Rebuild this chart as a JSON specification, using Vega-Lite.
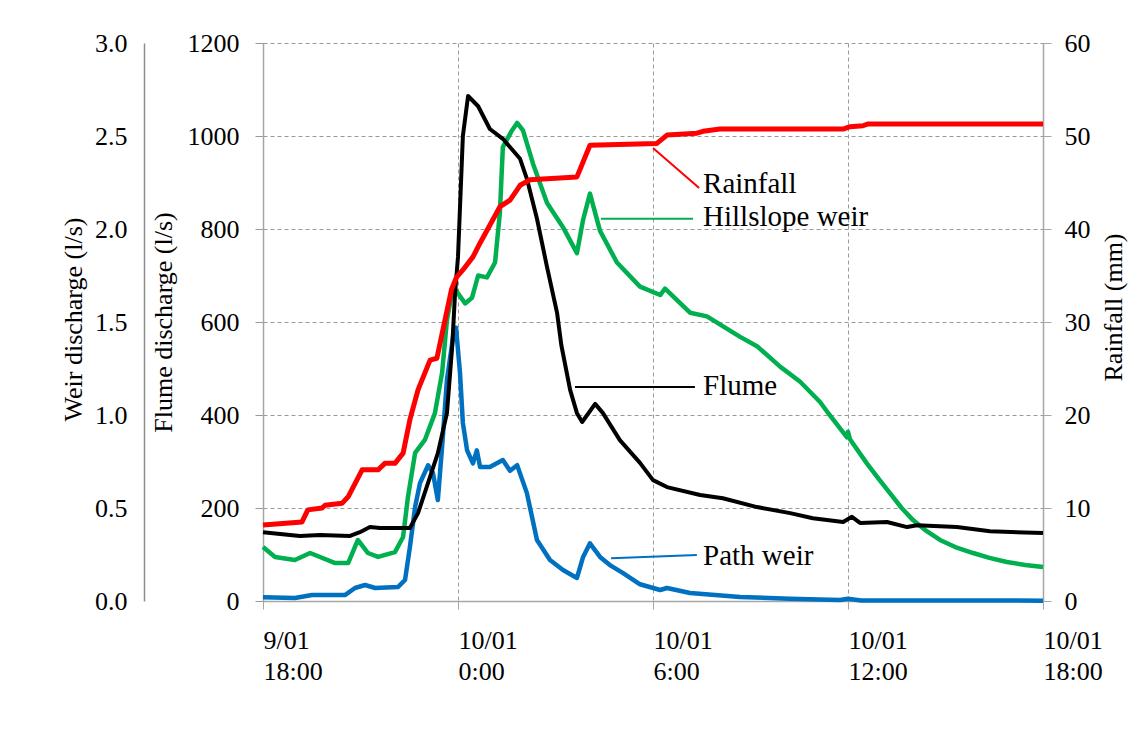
{
  "$schema": "https://vega.github.io/schema/vega-lite/v6.json",
  "width": 780,
  "height": 558,
  "autosize": {"type": "none"},
  "padding": {"left": 263, "top": 43, "right": 94, "bottom": 148},
  "background": "white",
  "config": {
    "view": {"stroke": null},
    "font": "Liberation Serif",
    "text": {"font": "Liberation Serif"},
    "axis": {
      "labelFont": "Liberation Serif",
      "titleFont": "Liberation Serif",
      "labelFontSize": 26,
      "titleFontSize": 26,
      "labelColor": "#000000",
      "titleColor": "#000000",
      "titleFontWeight": "normal",
      "domainColor": "#a6a6a6",
      "tickColor": "#a6a6a6",
      "domainWidth": 1.5
    }
  },
  "datasets": {
    "weir": [
      {"s": "Path weir", "h": 18.00, "v": 0.02},
      {"s": "Path weir", "h": 18.98, "v": 0.016},
      {"s": "Path weir", "h": 19.51, "v": 0.032},
      {"s": "Path weir", "h": 20.52, "v": 0.032},
      {"s": "Path weir", "h": 20.83, "v": 0.07},
      {"s": "Path weir", "h": 21.14, "v": 0.086},
      {"s": "Path weir", "h": 21.45, "v": 0.07},
      {"s": "Path weir", "h": 22.15, "v": 0.075},
      {"s": "Path weir", "h": 22.37, "v": 0.113},
      {"s": "Path weir", "h": 22.52, "v": 0.29},
      {"s": "Path weir", "h": 22.68, "v": 0.505},
      {"s": "Path weir", "h": 22.83, "v": 0.634},
      {"s": "Path weir", "h": 23.08, "v": 0.73},
      {"s": "Path weir", "h": 23.23, "v": 0.688},
      {"s": "Path weir", "h": 23.38, "v": 0.543},
      {"s": "Path weir", "h": 23.51, "v": 0.828},
      {"s": "Path weir", "h": 23.66, "v": 1.19},
      {"s": "Path weir", "h": 23.85, "v": 1.42},
      {"s": "Path weir", "h": 23.94, "v": 1.47},
      {"s": "Path weir", "h": 24.06, "v": 1.23},
      {"s": "Path weir", "h": 24.15, "v": 0.957},
      {"s": "Path weir", "h": 24.28, "v": 0.81},
      {"s": "Path weir", "h": 24.46, "v": 0.74},
      {"s": "Path weir", "h": 24.58, "v": 0.81},
      {"s": "Path weir", "h": 24.68, "v": 0.72},
      {"s": "Path weir", "h": 24.98, "v": 0.72},
      {"s": "Path weir", "h": 25.38, "v": 0.758},
      {"s": "Path weir", "h": 25.60, "v": 0.70},
      {"s": "Path weir", "h": 25.82, "v": 0.73},
      {"s": "Path weir", "h": 26.12, "v": 0.58},
      {"s": "Path weir", "h": 26.43, "v": 0.328},
      {"s": "Path weir", "h": 26.83, "v": 0.22},
      {"s": "Path weir", "h": 27.23, "v": 0.167},
      {"s": "Path weir", "h": 27.66, "v": 0.124},
      {"s": "Path weir", "h": 27.85, "v": 0.237},
      {"s": "Path weir", "h": 28.06, "v": 0.31},
      {"s": "Path weir", "h": 28.37, "v": 0.237},
      {"s": "Path weir", "h": 28.70, "v": 0.19},
      {"s": "Path weir", "h": 29.08, "v": 0.15},
      {"s": "Path weir", "h": 29.60, "v": 0.09},
      {"s": "Path weir", "h": 30.22, "v": 0.059},
      {"s": "Path weir", "h": 30.43, "v": 0.07},
      {"s": "Path weir", "h": 31.14, "v": 0.043},
      {"s": "Path weir", "h": 32.68, "v": 0.022},
      {"s": "Path weir", "h": 34.20, "v": 0.012},
      {"s": "Path weir", "h": 35.75, "v": 0.005},
      {"s": "Path weir", "h": 36.00, "v": 0.012},
      {"s": "Path weir", "h": 36.40, "v": 0.003},
      {"s": "Path weir", "h": 42.00, "v": 0.002},
      {"s": "Hillslope weir", "h": 18.00, "v": 0.29},
      {"s": "Hillslope weir", "h": 18.37, "v": 0.237},
      {"s": "Hillslope weir", "h": 18.98, "v": 0.22},
      {"s": "Hillslope weir", "h": 19.45, "v": 0.258},
      {"s": "Hillslope weir", "h": 20.22, "v": 0.204},
      {"s": "Hillslope weir", "h": 20.62, "v": 0.204},
      {"s": "Hillslope weir", "h": 20.92, "v": 0.328},
      {"s": "Hillslope weir", "h": 21.23, "v": 0.258},
      {"s": "Hillslope weir", "h": 21.54, "v": 0.237},
      {"s": "Hillslope weir", "h": 22.06, "v": 0.263},
      {"s": "Hillslope weir", "h": 22.31, "v": 0.344},
      {"s": "Hillslope weir", "h": 22.46, "v": 0.559},
      {"s": "Hillslope weir", "h": 22.68, "v": 0.796},
      {"s": "Hillslope weir", "h": 22.98, "v": 0.866},
      {"s": "Hillslope weir", "h": 23.29, "v": 1.01},
      {"s": "Hillslope weir", "h": 23.51, "v": 1.226},
      {"s": "Hillslope weir", "h": 23.66, "v": 1.51},
      {"s": "Hillslope weir", "h": 23.85, "v": 1.69},
      {"s": "Hillslope weir", "h": 24.22, "v": 1.60},
      {"s": "Hillslope weir", "h": 24.43, "v": 1.63},
      {"s": "Hillslope weir", "h": 24.62, "v": 1.75},
      {"s": "Hillslope weir", "h": 24.89, "v": 1.74},
      {"s": "Hillslope weir", "h": 25.14, "v": 1.82},
      {"s": "Hillslope weir", "h": 25.29, "v": 2.09},
      {"s": "Hillslope weir", "h": 25.38, "v": 2.44},
      {"s": "Hillslope weir", "h": 25.66, "v": 2.53},
      {"s": "Hillslope weir", "h": 25.82, "v": 2.57},
      {"s": "Hillslope weir", "h": 26.00, "v": 2.53},
      {"s": "Hillslope weir", "h": 26.31, "v": 2.35},
      {"s": "Hillslope weir", "h": 26.74, "v": 2.14},
      {"s": "Hillslope weir", "h": 27.23, "v": 2.01},
      {"s": "Hillslope weir", "h": 27.66, "v": 1.87},
      {"s": "Hillslope weir", "h": 27.85, "v": 2.05},
      {"s": "Hillslope weir", "h": 28.06, "v": 2.19},
      {"s": "Hillslope weir", "h": 28.37, "v": 1.99},
      {"s": "Hillslope weir", "h": 28.89, "v": 1.82},
      {"s": "Hillslope weir", "h": 29.60, "v": 1.69},
      {"s": "Hillslope weir", "h": 30.22, "v": 1.645},
      {"s": "Hillslope weir", "h": 30.37, "v": 1.68},
      {"s": "Hillslope weir", "h": 31.14, "v": 1.55},
      {"s": "Hillslope weir", "h": 31.66, "v": 1.53},
      {"s": "Hillslope weir", "h": 32.68, "v": 1.42},
      {"s": "Hillslope weir", "h": 33.20, "v": 1.37},
      {"s": "Hillslope weir", "h": 33.91, "v": 1.26},
      {"s": "Hillslope weir", "h": 34.52, "v": 1.18},
      {"s": "Hillslope weir", "h": 35.14, "v": 1.07},
      {"s": "Hillslope weir", "h": 35.35, "v": 1.02},
      {"s": "Hillslope weir", "h": 35.97, "v": 0.88},
      {"s": "Hillslope weir", "h": 36.00, "v": 0.91},
      {"s": "Hillslope weir", "h": 36.06, "v": 0.87},
      {"s": "Hillslope weir", "h": 36.58, "v": 0.74},
      {"s": "Hillslope weir", "h": 36.95, "v": 0.655},
      {"s": "Hillslope weir", "h": 37.29, "v": 0.58},
      {"s": "Hillslope weir", "h": 37.65, "v": 0.50},
      {"s": "Hillslope weir", "h": 38.00, "v": 0.435},
      {"s": "Hillslope weir", "h": 38.40, "v": 0.378},
      {"s": "Hillslope weir", "h": 38.83, "v": 0.328},
      {"s": "Hillslope weir", "h": 39.30, "v": 0.29},
      {"s": "Hillslope weir", "h": 39.85, "v": 0.258},
      {"s": "Hillslope weir", "h": 40.35, "v": 0.232},
      {"s": "Hillslope weir", "h": 40.89, "v": 0.21},
      {"s": "Hillslope weir", "h": 41.45, "v": 0.194},
      {"s": "Hillslope weir", "h": 42.00, "v": 0.183}
    ],
    "flume": [
      {"s": "Flume", "h": 18.00, "v": 148},
      {"s": "Flume", "h": 18.83, "v": 142},
      {"s": "Flume", "h": 19.14, "v": 140},
      {"s": "Flume", "h": 19.75, "v": 142},
      {"s": "Flume", "h": 20.68, "v": 140},
      {"s": "Flume", "h": 20.98, "v": 148},
      {"s": "Flume", "h": 21.29, "v": 159},
      {"s": "Flume", "h": 21.60, "v": 157},
      {"s": "Flume", "h": 22.52, "v": 157},
      {"s": "Flume", "h": 22.77, "v": 189},
      {"s": "Flume", "h": 23.14, "v": 267},
      {"s": "Flume", "h": 23.38, "v": 318},
      {"s": "Flume", "h": 23.66, "v": 404},
      {"s": "Flume", "h": 23.82, "v": 546},
      {"s": "Flume", "h": 23.91, "v": 662},
      {"s": "Flume", "h": 24.00, "v": 740},
      {"s": "Flume", "h": 24.15, "v": 1000},
      {"s": "Flume", "h": 24.31, "v": 1086},
      {"s": "Flume", "h": 24.62, "v": 1064},
      {"s": "Flume", "h": 24.98, "v": 1015},
      {"s": "Flume", "h": 25.38, "v": 994},
      {"s": "Flume", "h": 25.91, "v": 951},
      {"s": "Flume", "h": 26.12, "v": 908},
      {"s": "Flume", "h": 26.43, "v": 822},
      {"s": "Flume", "h": 26.74, "v": 718},
      {"s": "Flume", "h": 27.05, "v": 619},
      {"s": "Flume", "h": 27.18, "v": 550},
      {"s": "Flume", "h": 27.45, "v": 454},
      {"s": "Flume", "h": 27.66, "v": 404},
      {"s": "Flume", "h": 27.82, "v": 385},
      {"s": "Flume", "h": 28.22, "v": 424},
      {"s": "Flume", "h": 28.46, "v": 404},
      {"s": "Flume", "h": 28.98, "v": 346},
      {"s": "Flume", "h": 29.60, "v": 297},
      {"s": "Flume", "h": 30.00, "v": 260},
      {"s": "Flume", "h": 30.43, "v": 245},
      {"s": "Flume", "h": 31.45, "v": 228},
      {"s": "Flume", "h": 32.15, "v": 221},
      {"s": "Flume", "h": 33.20, "v": 202},
      {"s": "Flume", "h": 34.22, "v": 189},
      {"s": "Flume", "h": 34.92, "v": 178},
      {"s": "Flume", "h": 35.85, "v": 170},
      {"s": "Flume", "h": 36.12, "v": 181},
      {"s": "Flume", "h": 36.37, "v": 168},
      {"s": "Flume", "h": 37.20, "v": 170},
      {"s": "Flume", "h": 37.82, "v": 159},
      {"s": "Flume", "h": 38.12, "v": 163},
      {"s": "Flume", "h": 39.35, "v": 159},
      {"s": "Flume", "h": 40.37, "v": 150},
      {"s": "Flume", "h": 42.00, "v": 146}
    ],
    "rain": [
      {"s": "Rainfall", "h": 18.00, "v": 8.17},
      {"s": "Rainfall", "h": 19.20, "v": 8.5},
      {"s": "Rainfall", "h": 19.38, "v": 9.8},
      {"s": "Rainfall", "h": 19.82, "v": 10.0},
      {"s": "Rainfall", "h": 19.91, "v": 10.3},
      {"s": "Rainfall", "h": 20.43, "v": 10.5},
      {"s": "Rainfall", "h": 20.62, "v": 11.2},
      {"s": "Rainfall", "h": 21.05, "v": 14.1},
      {"s": "Rainfall", "h": 21.54, "v": 14.1},
      {"s": "Rainfall", "h": 21.75, "v": 14.8},
      {"s": "Rainfall", "h": 22.06, "v": 14.8},
      {"s": "Rainfall", "h": 22.31, "v": 15.9},
      {"s": "Rainfall", "h": 22.52, "v": 19.5},
      {"s": "Rainfall", "h": 22.77, "v": 22.7},
      {"s": "Rainfall", "h": 23.14, "v": 25.9},
      {"s": "Rainfall", "h": 23.35, "v": 26.1},
      {"s": "Rainfall", "h": 23.60, "v": 30.2},
      {"s": "Rainfall", "h": 23.80, "v": 33.5},
      {"s": "Rainfall", "h": 23.95, "v": 34.8},
      {"s": "Rainfall", "h": 24.15, "v": 35.6},
      {"s": "Rainfall", "h": 24.46, "v": 37.0},
      {"s": "Rainfall", "h": 24.68, "v": 38.5},
      {"s": "Rainfall", "h": 25.29, "v": 42.4},
      {"s": "Rainfall", "h": 25.60, "v": 43.1},
      {"s": "Rainfall", "h": 25.91, "v": 44.7},
      {"s": "Rainfall", "h": 26.22, "v": 45.3},
      {"s": "Rainfall", "h": 27.66, "v": 45.6},
      {"s": "Rainfall", "h": 28.06, "v": 49.0},
      {"s": "Rainfall", "h": 30.12, "v": 49.2},
      {"s": "Rainfall", "h": 30.43, "v": 50.1},
      {"s": "Rainfall", "h": 31.35, "v": 50.3},
      {"s": "Rainfall", "h": 31.54, "v": 50.5},
      {"s": "Rainfall", "h": 32.06, "v": 50.75},
      {"s": "Rainfall", "h": 35.85, "v": 50.75},
      {"s": "Rainfall", "h": 36.06, "v": 51.0},
      {"s": "Rainfall", "h": 36.46, "v": 51.1},
      {"s": "Rainfall", "h": 36.62, "v": 51.3},
      {"s": "Rainfall", "h": 42.00, "v": 51.3}
    ],
    "leaders": [
      {"s": "Rainfall", "h": 30.00, "v": 974, "h2": 31.42, "v2": 888},
      {"s": "Hillslope weir", "h": 28.40, "v": 822, "h2": 31.23, "v2": 822},
      {"s": "Flume", "h": 27.60, "v": 460, "h2": 31.29, "v2": 460},
      {"s": "Path weir", "h": 28.71, "v": 92, "h2": 31.35, "v2": 99}
    ],
    "labels": [
      {"t": "Rainfall", "h": 31.54, "v": 877},
      {"t": "Hillslope weir", "h": 31.54, "v": 806},
      {"t": "Flume", "h": 31.54, "v": 443},
      {"t": "Path weir", "h": 31.54, "v": 77}
    ]
  },
  "resolve": {"scale": {"y": "independent"}},
  "layer": [
    {
      "data": {"name": "weir"},
      "mark": {"type": "line", "strokeWidth": 4.5, "strokeJoin": "round"},
      "encoding": {
        "x": {
          "field": "h", "type": "quantitative",
          "scale": {"domain": [18, 42], "nice": false},
          "axis": {
            "title": null,
            "values": [18, 24, 30, 36, 42],
            "grid": true, "gridDash": [4, 3], "gridColor": "#9a9a9a", "gridWidth": 1,
            "tickSize": 8,
            "labelExpr": "datum.value == 18 ? ['9/01', '18:00'] : ['10/01', (datum.value - 24) + ':00']",
            "labelAlign": "left", "labelDx": -12,
            "labelBaseline": "top", "labelPadding": 18, "labelLineHeight": 31,
            "labelFlush": false, "labelOverlap": false
          }
        },
        "y": {
          "field": "v", "type": "quantitative",
          "scale": {"domain": [0, 3], "nice": false},
          "axis": {
            "orient": "left", "offset": 119,
            "values": [0, 0.5, 1, 1.5, 2, 2.5, 3], "format": ".1f",
            "ticks": false, "labelPadding": 17, "grid": false,
            "domainColor": "#8c8c8c",
            "title": "Weir discharge (l/s)",
            "titleAngle": 270, "titleBaseline": "middle", "titleAlign": "center",
            "titleX": -71, "titleY": 276
          }
        },
        "color": {
          "field": "s", "type": "nominal", "legend": null,
          "scale": {"domain": ["Rainfall", "Hillslope weir", "Flume", "Path weir"], "range": ["#ff0000", "#00b050", "#000000", "#0070c0"]}
        }
      }
    },
    {
      "data": {"name": "flume"},
      "mark": {"type": "line", "strokeWidth": 4, "strokeJoin": "round"},
      "encoding": {
        "x": {"field": "h", "type": "quantitative", "scale": {"domain": [18, 42], "nice": false}},
        "y": {
          "field": "v", "type": "quantitative",
          "scale": {"domain": [0, 1200], "nice": false},
          "axis": {
            "orient": "left",
            "values": [0, 200, 400, 600, 800, 1000, 1200], "format": "d",
            "grid": true, "gridDash": [4, 3], "gridColor": "#9a9a9a", "gridWidth": 1,
            "tickSize": 8, "tickColor": "#9a9a9a", "labelPadding": 16,
            "title": "Flume discharge (l/s)",
            "titleAngle": 270, "titleBaseline": "middle", "titleAlign": "center",
            "titleX": -100, "titleY": 279
          }
        },
        "color": {"field": "s", "type": "nominal", "legend": null}
      }
    },
    {
      "data": {"name": "rain"},
      "mark": {"type": "line", "strokeWidth": 5, "strokeJoin": "round"},
      "encoding": {
        "x": {"field": "h", "type": "quantitative", "scale": {"domain": [18, 42], "nice": false}},
        "y": {
          "field": "v", "type": "quantitative",
          "scale": {"domain": [0, 60], "nice": false},
          "axis": {
            "orient": "right",
            "values": [0, 10, 20, 30, 40, 50, 60], "format": "d",
            "grid": false, "tickSize": 8, "labelPadding": 13,
            "title": "Rainfall (mm)",
            "titleAngle": 270, "titleBaseline": "middle", "titleAlign": "center",
            "titleX": 70, "titleY": 264
          }
        },
        "color": {"field": "s", "type": "nominal", "legend": null}
      }
    },
    {
      "data": {"name": "leaders"},
      "mark": {"type": "rule", "strokeWidth": 2},
      "encoding": {
        "x": {"field": "h", "type": "quantitative", "scale": {"domain": [18, 42], "nice": false}},
        "x2": {"field": "h2"},
        "y": {"field": "v", "type": "quantitative", "scale": {"domain": [0, 1200], "nice": false}, "axis": null},
        "y2": {"field": "v2"},
        "color": {"field": "s", "type": "nominal", "legend": null}
      }
    },
    {
      "data": {"name": "labels"},
      "mark": {"type": "text", "align": "left", "baseline": "alphabetic", "fontSize": 29, "font": "Liberation Serif", "color": "#000000"},
      "encoding": {
        "x": {"field": "h", "type": "quantitative", "scale": {"domain": [18, 42], "nice": false}},
        "y": {"field": "v", "type": "quantitative", "scale": {"domain": [0, 1200], "nice": false}, "axis": null},
        "text": {"field": "t"}
      }
    }
  ]
}
